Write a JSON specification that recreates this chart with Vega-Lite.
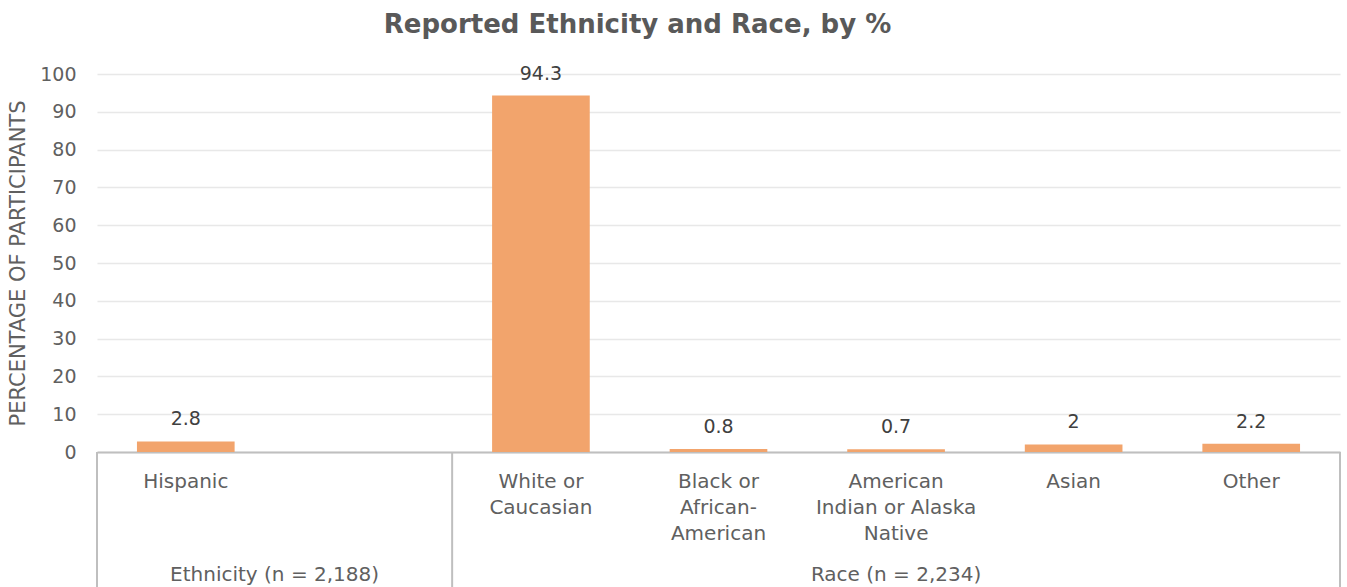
{
  "$schema": "https://vega.github.io/schema/vega-lite/v6.json",
  "width": 1243,
  "height": 378,
  "autosize": {"type": "none"},
  "padding": {"left": 97, "top": 74, "right": 7, "bottom": 135},
  "background": "white",
  "config": {
    "font": "DejaVu Sans",
    "view": {"stroke": null},
    "axisY": {
      "titleFontSize": 21,
      "titleFontWeight": "normal",
      "titleColor": "#606060",
      "titlePadding": 11,
      "labelOverlap": false,
      "labelFontSize": 19,
      "labelColor": "#606060",
      "labelPadding": 21,
      "ticks": false,
      "domain": false,
      "grid": true,
      "gridColor": "#e8e8e8",
      "gridWidth": 1.5
    }
  },
  "title": {
    "text": "Reported Ethnicity and Race, by %",
    "font": "DejaVu Sans",
    "fontSize": 26,
    "fontWeight": "bold",
    "color": "#595959",
    "anchor": "middle",
    "dx": -81,
    "offset": 27
  },
  "datasets": {
    "bars": [
      {"category": "Hispanic", "pct": 2.8},
      {"category": "White or Caucasian", "pct": 94.3},
      {"category": "Black or African-American", "pct": 0.8},
      {"category": "American Indian or Alaska Native", "pct": 0.7},
      {"category": "Asian", "pct": 2},
      {"category": "Other", "pct": 2.2}
    ]
  },
  "layer": [
    {
      "data": {"name": "bars"},
      "mark": {"type": "bar", "color": "#F2A46C", "width": {"band": 0.55}},
      "encoding": {
        "x": {
          "field": "category",
          "type": "nominal",
          "sort": null,
          "scale": {
            "domain": ["Hispanic", "_blank", "White or Caucasian", "Black or African-American", "American Indian or Alaska Native", "Asian", "Other"],
            "paddingInner": 0,
            "paddingOuter": 0
          },
          "axis": {
            "title": null,
            "labelAngle": 0,
            "labelExpr": "datum.value == 'White or Caucasian' ? ['White or', 'Caucasian'] : datum.value == 'Black or African-American' ? ['Black or', 'African-', 'American'] : datum.value == 'American Indian or Alaska Native' ? ['American', 'Indian or Alaska', 'Native'] : datum.value == '_blank' ? '' : datum.value",
            "labelFontSize": 20,
            "labelColor": "#606060",
            "labelLineHeight": 26,
            "labelBaseline": "top",
            "labelPadding": 19,
            "labelOverlap": false,
            "labelLimit": 0,
            "ticks": false,
            "domain": true,
            "domainColor": "#bfbfbf",
            "domainWidth": 2,
            "grid": false
          }
        },
        "y": {
          "field": "pct",
          "type": "quantitative",
          "scale": {"domain": [0, 100], "nice": false},
          "axis": {"title": "PERCENTAGE OF PARTICIPANTS", "values": [0, 10, 20, 30, 40, 50, 60, 70, 80, 90, 100]}
        }
      }
    },
    {
      "data": {"name": "bars"},
      "mark": {"type": "text", "dy": -16, "baseline": "alphabetic", "fontSize": 19, "color": "#404040"},
      "encoding": {
        "x": {"field": "category", "type": "nominal", "sort": null},
        "y": {"field": "pct", "type": "quantitative", "axis": {"title": "PERCENTAGE OF PARTICIPANTS", "values": [0, 10, 20, 30, 40, 50, 60, 70, 80, 90, 100]}},
        "text": {"field": "pct", "type": "nominal"}
      }
    },
    {
      "data": {"values": [{"edge": "Hispanic"}, {"edge": "White or Caucasian"}]},
      "mark": {"type": "rule", "color": "#bfbfbf", "strokeWidth": 2},
      "encoding": {
        "x": {"field": "edge", "type": "nominal", "bandPosition": 0},
        "y": {"datum": 0, "axis": {"title": "PERCENTAGE OF PARTICIPANTS", "values": [0, 10, 20, 30, 40, 50, 60, 70, 80, 90, 100]}},
        "y2": {"datum": -36}
      }
    },
    {
      "data": {"values": [{"edge": "Other"}]},
      "mark": {"type": "rule", "color": "#bfbfbf", "strokeWidth": 2},
      "encoding": {
        "x": {"field": "edge", "type": "nominal", "bandPosition": 1},
        "y": {"datum": 0, "axis": {"title": "PERCENTAGE OF PARTICIPANTS", "values": [0, 10, 20, 30, 40, 50, 60, 70, 80, 90, 100]}},
        "y2": {"datum": -36}
      }
    },
    {
      "data": {"values": [{"group": "Ethnicity (n = 2,188)", "at": "_blank"}]},
      "mark": {"type": "text", "fontSize": 20, "color": "#606060", "baseline": "middle"},
      "encoding": {
        "x": {"field": "at", "type": "nominal", "bandPosition": 0},
        "y": {"datum": -32.5, "axis": {"title": "PERCENTAGE OF PARTICIPANTS", "values": [0, 10, 20, 30, 40, 50, 60, 70, 80, 90, 100]}},
        "text": {"field": "group"}
      }
    },
    {
      "data": {"values": [{"group": "Race (n = 2,234)", "at": "American Indian or Alaska Native"}]},
      "mark": {"type": "text", "fontSize": 20, "color": "#606060", "baseline": "middle"},
      "encoding": {
        "x": {"field": "at", "type": "nominal", "bandPosition": 0.5},
        "y": {"datum": -32.5, "axis": {"title": "PERCENTAGE OF PARTICIPANTS", "values": [0, 10, 20, 30, 40, 50, 60, 70, 80, 90, 100]}},
        "text": {"field": "group"}
      }
    }
  ]
}
